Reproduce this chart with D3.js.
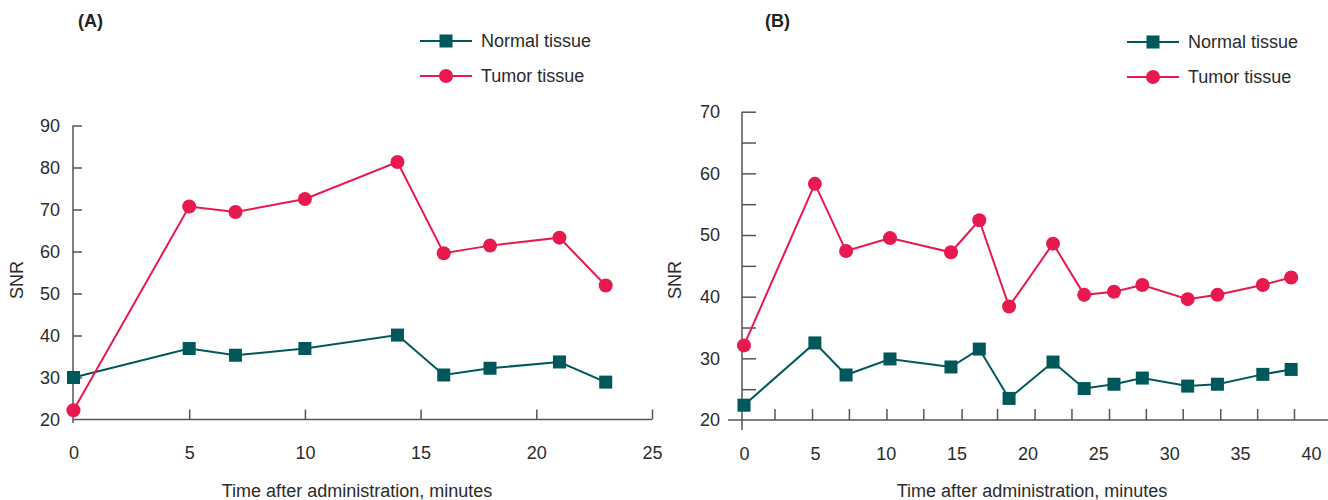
<!DOCTYPE html>
<html>
<head>
<meta charset="utf-8">
<script src="https://cdn.jsdelivr.net/npm/d3@7"></script>
<style>
  body { margin: 0; background: #fff; }
  svg { font-family: "Liberation Sans", Arial, sans-serif; }
  .axis text { font-size: 18px; fill: #2b2b2b; }
  .axis line { stroke: #555; stroke-width: 1.5; }
</style>
</head>
<body>
<svg id="chart" width="1328" height="500"></svg>
<script>
// ---- data ----
// panel A
var timeA = [0, 5, 7, 10, 14, 16, 18, 21, 23];
var normalA = [30, 36.9, 35.3, 36.9, 40.1, 30.6, 32.2, 33.7, 28.9];
var tumorA = [22.2, 70.7, 69.4, 72.5, 81.3, 59.6, 61.4, 63.3, 51.9];
// panel B
var timeB = [0, 5, 7.2, 10.3, 14.6, 16.6, 18.7, 21.8, 24, 26.1, 28.1, 31.3, 33.4, 36.6, 38.6];
var normalB = [22.4, 32.5, 27.3, 29.9, 28.6, 31.5, 23.5, 29.4, 25.1, 25.8, 26.8, 25.5, 25.8, 27.4, 28.2];
var tumorB = [32.1, 58.3, 47.4, 49.5, 47.2, 52.4, 38.4, 48.6, 40.3, 40.8, 41.9, 39.6, 40.3, 41.9, 43.1];

// tick labels
var xTicksA = [0, 5, 10, 15, 20, 25];
var yTicksA = [20, 30, 40, 50, 60, 70, 80, 90];
var xTicksB = [0, 5, 10, 15, 20, 25, 30, 35, 40];
var yTicksB = [20, 30, 40, 50, 60, 70];
var yMinorB = [25, 35, 45, 55, 65];
// tick marks on B's time axis do not line up with its labels in the original
var xMinorB = [2.15, 4.8, 7.4, 10.05, 12.65, 15.35, 17.85, 20.5, 23.1, 25.75, 28.35, 30.95, 33.6, 36.2, 38.8];

var seriesNames = ["Normal tissue", "Tumor tissue"];
var colors = {"Normal tissue": "#00585a", "Tumor tissue": "#e8194f"};

var svg = d3.select("#chart");

function drawPanel(p) {
  var g = svg.append("g");
  var x = p.x, y = p.y;

  // y axis line
  g.append("line")
    .attr("x1", p.yAxisX).attr("x2", p.yAxisX)
    .attr("y1", y.range()[1]).attr("y2", p.yAxisBottom)
    .attr("stroke", "#555").attr("stroke-width", 1.5);
  // x axis line
  g.append("line")
    .attr("x1", p.xAxisLeft).attr("x2", p.xAxisRight)
    .attr("y1", y.range()[0]).attr("y2", y.range()[0])
    .attr("stroke", "#555").attr("stroke-width", 1.5);

  // y ticks + labels
  var ya = g.append("g").attr("class", "axis")
    .attr("transform", "translate(" + p.yAxisX + ",0)")
    .call(d3.axisLeft(y).tickValues(p.yTicks).tickSizeInner(-p.yTickLen).tickSizeOuter(0).tickPadding(p.yPad));
  ya.select(".domain").remove();
  ya.selectAll(".tick").filter(function(d) { return d === y.domain()[0]; }).select("line").remove();

  if (p.yMinor) {
    var ym = g.append("g").attr("class", "axis")
      .attr("transform", "translate(" + p.yAxisX + ",0)")
      .call(d3.axisLeft(y).tickValues(p.yMinor).tickSizeInner(-p.yTickLen).tickSizeOuter(0).tickFormat(""));
    ym.select(".domain").remove();
  }

  // x ticks
  var xa = g.append("g").attr("class", "axis")
    .attr("transform", "translate(0," + y.range()[0] + ")")
    .call(d3.axisBottom(x).tickValues(p.xMarks).tickSizeInner(-p.xTickLen).tickSizeOuter(0).tickFormat(""));
  xa.select(".domain").remove();
  // x labels
  var xl = g.append("g").attr("class", "axis")
    .attr("transform", "translate(0," + y.range()[0] + ")")
    .call(d3.axisBottom(x).tickValues(p.xTicks).tickSize(0).tickPadding(27));
  xl.select(".domain").remove();

  // axis titles
  g.append("text")
    .attr("x", p.xTitleX).attr("y", 497)
    .attr("text-anchor", "middle")
    .attr("font-size", 18).attr("fill", "#2b2b2b")
    .text("Time after administration, minutes");
  g.append("text")
    .attr("transform", "translate(" + p.yTitleX + ",280) rotate(-90)")
    .attr("text-anchor", "middle").attr("dy", "0.35em")
    .attr("font-size", 18).attr("fill", "#2b2b2b")
    .text("SNR");

  // panel letter
  g.append("text")
    .attr("x", p.letterX).attr("y", 27)
    .attr("font-size", 18).attr("font-weight", "bold").attr("fill", "#222")
    .text(p.letter);

  // lines + markers
  var line = d3.line()
    .x(function(d) { return x(d.t); })
    .y(function(d) { return y(d.v); });

  seriesNames.forEach(function(name) {
    var vals = name === "Normal tissue" ? p.normal : p.tumor;
    var pts = p.time.map(function(t, i) { return {t: t, v: vals[i]}; });
    g.append("path")
      .datum(pts)
      .attr("fill", "none")
      .attr("stroke", colors[name])
      .attr("stroke-width", 2)
      .attr("d", line);
    if (name === "Normal tissue") {
      g.selectAll(null).data(pts).enter().append("rect")
        .attr("x", function(d) { return x(d.t) - 6.5; })
        .attr("y", function(d) { return y(d.v) - 6.5; })
        .attr("width", 13).attr("height", 13)
        .attr("fill", colors[name]);
    } else {
      g.selectAll(null).data(pts).enter().append("circle")
        .attr("cx", function(d) { return x(d.t); })
        .attr("cy", function(d) { return y(d.v); })
        .attr("r", 7)
        .attr("fill", colors[name]);
    }
  });

  // legend
  var legend = g.selectAll(".legend")
    .data(seriesNames)
    .enter().append("g")
    .attr("transform", function(d, i) { return "translate(" + p.legendX + "," + (p.legendY + i * 35) + ")"; });
  legend.append("line")
    .attr("x1", 0).attr("x2", 52)
    .attr("stroke", function(d) { return colors[d]; })
    .attr("stroke-width", 2);
  legend.each(function(d) {
    var lg = d3.select(this);
    if (d === "Normal tissue") {
      lg.append("rect").attr("x", 19.5).attr("y", -6.5).attr("width", 13).attr("height", 13).attr("fill", colors[d]);
    } else {
      lg.append("circle").attr("cx", 26).attr("cy", 0).attr("r", 7).attr("fill", colors[d]);
    }
  });
  legend.append("text")
    .attr("x", 61).attr("dy", "0.35em")
    .attr("font-size", 18).attr("fill", "#2b2b2b")
    .text(function(d) { return d; });
}

drawPanel({
  letter: "(A)", letterX: 78,
  x: d3.scaleLinear().domain([0, 25]).range([73.5, 652]),
  y: d3.scaleLinear().domain([20, 90]).range([419.5, 125.5]),
  time: timeA, normal: normalA, tumor: tumorA,
  xTicks: xTicksA, xMarks: xTicksA.slice(1),
  yTicks: yTicksA, yMinor: null,
  yAxisX: 73, yAxisBottom: 423, xAxisLeft: 73, xAxisRight: 652,
  yTickLen: 9, yPad: 13, xTickLen: 10,
  yTitleX: 17, xTitleX: 357,
  legendX: 420, legendY: 41
});

drawPanel({
  letter: "(B)", letterX: 765,
  x: d3.scaleLinear().domain([0, 40]).range([744, 1311]),
  y: d3.scaleLinear().domain([20, 70]).range([420, 111.7]),
  time: timeB, normal: normalB, tumor: tumorB,
  xTicks: xTicksB, xMarks: xMinorB,
  yTicks: yTicksB, yMinor: yMinorB,
  yAxisX: 742, yAxisBottom: 430, xAxisLeft: 728, xAxisRight: 1328,
  yTickLen: 14, yPad: 22, xTickLen: 11,
  yTitleX: 675, xTitleX: 1032,
  legendX: 1127, legendY: 42
});
</script>
</body>
</html>
